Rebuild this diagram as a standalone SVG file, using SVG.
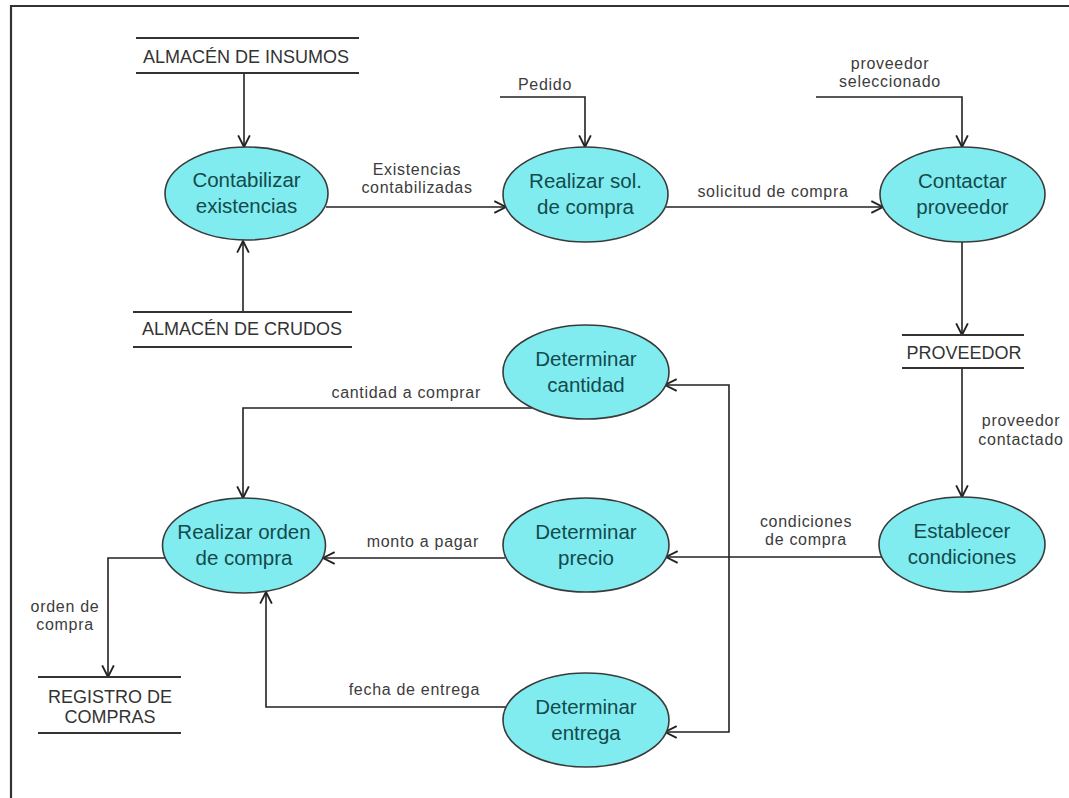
<svg xmlns="http://www.w3.org/2000/svg" width="1069" height="798" viewBox="0 0 1069 798">
  <defs>
    <marker id="arrow" markerUnits="userSpaceOnUse" markerWidth="14" markerHeight="14" viewBox="0 0 12 12" refX="11" refY="6" orient="auto">
      <path d="M1,1 L11,6 L1,11" fill="none" stroke="#222" stroke-width="1.6"/>
    </marker>
  </defs>
  <style>
    .frame { stroke: #333; stroke-width: 2.2; fill: none; }
    .proc ellipse { fill: #80ecf0; stroke: #3a3a3a; stroke-width: 1.6; }
    .proc text { font-family: "Liberation Sans", Arial, sans-serif; font-size: 20.5px; fill: #134a4c; text-anchor: middle; }
    .store line { stroke: #333; stroke-width: 1.8; }
    .store text { font-family: "Liberation Sans", Arial, sans-serif; font-size: 18px; fill: #333; text-anchor: middle; }
    .flow path { fill: none; stroke: #222; stroke-width: 1.6; }
    .flow .arr { marker-end: url(#arrow); }
    .lbl { font-family: "Liberation Sans", Arial, sans-serif; font-size: 16px; letter-spacing: 0.7px; fill: #3c3c3c; text-anchor: middle; }
    .lbl.end { text-anchor: end; }
  </style>

  <rect width="1069" height="798" fill="#fff"/>

  <!-- sheet frame -->
  <path class="frame" d="M11,798 V6 H1069"/>

  <!-- data flows -->
  <g id="connectors" class="flow">
    <path class="arr" d="M244,73 V147"/>
    <path class="arr" d="M243,312 V241"/>
    <path class="arr" d="M326,207 H506"/>
    <path class="arr" d="M500,97 H585 V147"/>
    <path class="arr" d="M666,207 H883"/>
    <path class="arr" d="M816,97 H962 V147"/>
    <path class="arr" d="M962,242 V335"/>
    <path class="arr" d="M962,368 V497"/>
    <path class="arr" d="M882,557 H666"/>
    <path class="arr" d="M729,557 V385 H665"/>
    <path class="arr" d="M729,557 V732 H665"/>
    <path class="arr" d="M532,408 H243 V498"/>
    <path class="arr" d="M505,558 H323"/>
    <path class="arr" d="M506,707 H266 V592"/>
    <path class="arr" d="M166,558 H108 V677"/>

    <text class="lbl" x="417" y="175">Existencias</text>
    <text class="lbl" x="417" y="193">contabilizadas</text>
    <text class="lbl" x="545" y="90">Pedido</text>
    <text class="lbl" x="773" y="197">solicitud de compra</text>
    <text class="lbl" x="890" y="69">proveedor</text>
    <text class="lbl" x="890" y="87">seleccionado</text>
    <text class="lbl" x="1021" y="426">proveedor</text>
    <text class="lbl" x="1021" y="445">contactado</text>
    <text class="lbl" x="806" y="527">condiciones</text>
    <text class="lbl" x="806" y="545">de compra</text>
    <text class="lbl end" x="481" y="398">cantidad a comprar</text>
    <text class="lbl end" x="479" y="547">monto a pagar</text>
    <text class="lbl end" x="480" y="695">fecha de entrega</text>
    <text class="lbl" x="65" y="612">orden de</text>
    <text class="lbl" x="65" y="630">compra</text>
  </g>

  <!-- data stores -->
  <g id="store-insumos" class="store">
    <line x1="136" y1="38" x2="359" y2="38"/>
    <line x1="136" y1="73" x2="359" y2="73"/>
    <text x="246" y="63">ALMACÉN DE INSUMOS</text>
  </g>
  <g id="store-crudos" class="store">
    <line x1="133" y1="312" x2="352" y2="312"/>
    <line x1="133" y1="347" x2="352" y2="347"/>
    <text x="242" y="335">ALMACÉN DE CRUDOS</text>
  </g>
  <g id="store-proveedor" class="store">
    <line x1="902" y1="335" x2="1024" y2="335"/>
    <line x1="902" y1="368" x2="1024" y2="368"/>
    <text x="964" y="359">PROVEEDOR</text>
  </g>
  <g id="store-registro" class="store">
    <line x1="38" y1="677" x2="181" y2="677"/>
    <line x1="38" y1="733" x2="181" y2="733"/>
    <text x="110" y="703">REGISTRO DE</text>
    <text x="110" y="723">COMPRAS</text>
  </g>

  <!-- processes -->
  <g id="proc-contabilizar" class="proc">
    <ellipse cx="246.5" cy="193.5" rx="81.5" ry="46.5"/>
    <text x="246.5" y="187">Contabilizar</text>
    <text x="246.5" y="213">existencias</text>
  </g>
  <g id="proc-solicitud" class="proc">
    <ellipse cx="585.5" cy="194.5" rx="82.5" ry="47.5"/>
    <text x="585.5" y="188">Realizar sol.</text>
    <text x="585.5" y="214">de compra</text>
  </g>
  <g id="proc-contactar" class="proc">
    <ellipse cx="962.5" cy="194.5" rx="82.5" ry="47.5"/>
    <text x="962.5" y="188">Contactar</text>
    <text x="962.5" y="214">proveedor</text>
  </g>
  <g id="proc-condiciones" class="proc">
    <ellipse cx="962" cy="544.5" rx="83" ry="47.5"/>
    <text x="962" y="538">Establecer</text>
    <text x="962" y="564">condiciones</text>
  </g>
  <g id="proc-cantidad" class="proc">
    <ellipse cx="586" cy="372" rx="83" ry="47"/>
    <text x="586" y="366">Determinar</text>
    <text x="586" y="392">cantidad</text>
  </g>
  <g id="proc-precio" class="proc">
    <ellipse cx="586" cy="545" rx="83" ry="47"/>
    <text x="586" y="539">Determinar</text>
    <text x="586" y="565">precio</text>
  </g>
  <g id="proc-entrega" class="proc">
    <ellipse cx="586" cy="720" rx="83" ry="47"/>
    <text x="586" y="714">Determinar</text>
    <text x="586" y="740">entrega</text>
  </g>
  <g id="proc-orden" class="proc">
    <ellipse cx="244" cy="545.5" rx="81.5" ry="47.5"/>
    <text x="244" y="539">Realizar orden</text>
    <text x="244" y="565">de compra</text>
  </g>
</svg>
